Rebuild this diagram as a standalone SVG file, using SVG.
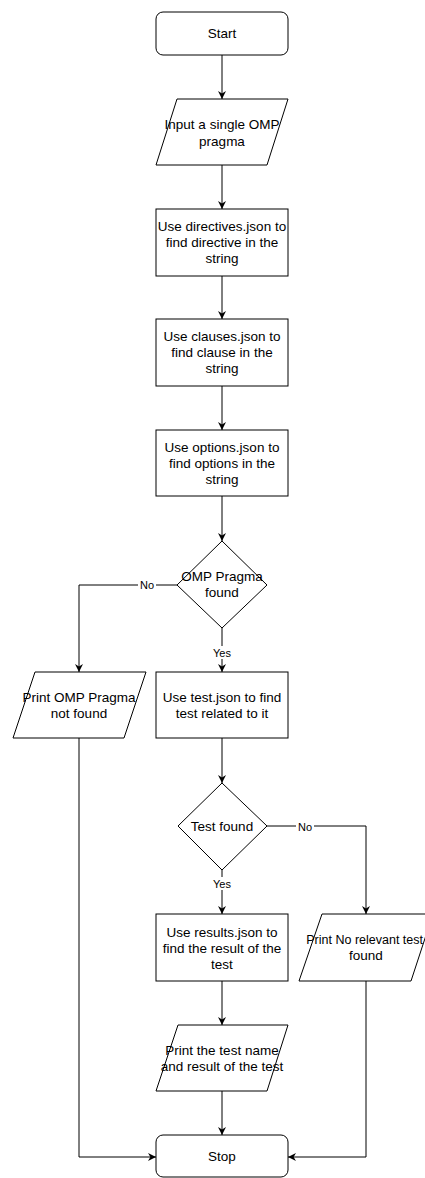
<svg xmlns="http://www.w3.org/2000/svg" width="425" height="1178" viewBox="0 0 425 1178">
<style>
.s{fill:#fff;stroke:#000;stroke-width:1}
.t{font-family:"Liberation Sans",Arial,sans-serif;font-size:13.5px;fill:#000;text-anchor:middle}
.l{font-family:"Liberation Sans",Arial,sans-serif;font-size:11px;fill:#000;text-anchor:middle}
.c{fill:none;stroke:#000;stroke-width:1}
</style>
<defs>
<marker id="a" viewBox="0 0 10 10" refX="10" refY="5" markerWidth="8" markerHeight="8" markerUnits="userSpaceOnUse" orient="auto">
<path d="M0,0 L10,5 L0,10 L3,5 z" fill="#000"/>
</marker>
</defs>
<rect width="425" height="1178" fill="#fff"/>
<g id="connectors">
<path class="c" d="M222,55 V99" marker-end="url(#a)"/>
<path class="c" d="M222,165 V209" marker-end="url(#a)"/>
<path class="c" d="M222,276 V319" marker-end="url(#a)"/>
<path class="c" d="M222,386 V430" marker-end="url(#a)"/>
<path class="c" d="M222,496 V541" marker-end="url(#a)"/>
<path class="c" d="M222,628 V672" marker-end="url(#a)"/>
<path class="c" d="M177,585 H79 V672" marker-end="url(#a)"/>
<path class="c" d="M222,738 V783" marker-end="url(#a)"/>
<path class="c" d="M222,870 V914" marker-end="url(#a)"/>
<path class="c" d="M267,826 H366 V914" marker-end="url(#a)"/>
<path class="c" d="M222,981 V1025" marker-end="url(#a)"/>
<path class="c" d="M222,1091 V1135" marker-end="url(#a)"/>
<path class="c" d="M79,738 V1157 H156" marker-end="url(#a)"/>
<path class="c" d="M366,981 V1157 H288" marker-end="url(#a)"/>
<rect x="138" y="578" width="18" height="13" fill="#fff"/>
<text class="l" x="147" y="589">No</text>
<rect x="211" y="646" width="22" height="13" fill="#fff"/>
<text class="l" x="222" y="657">Yes</text>
<rect x="296" y="820" width="18" height="13" fill="#fff"/>
<text class="l" x="305" y="831">No</text>
<rect x="211" y="877" width="22" height="13" fill="#fff"/>
<text class="l" x="222" y="888">Yes</text>
</g>
<g id="start">
<rect class="s" x="156" y="12" width="132" height="43" rx="7"/>
<text class="t" x="222" y="38">Start</text>
</g>
<g id="input">
<path class="s" d="M177,99 H288 L267,165 H156 Z"/>
<text class="t" x="222" y="129">Input a single OMP</text>
<text class="t" x="222" y="146">pragma</text>
</g>
<g id="directives">
<rect class="s" x="156" y="209" width="132" height="67"/>
<text class="t" x="222" y="231">Use directives.json to</text>
<text class="t" x="222" y="247">find directive in the</text>
<text class="t" x="222" y="263">string</text>
</g>
<g id="clauses">
<rect class="s" x="156" y="319" width="132" height="67"/>
<text class="t" x="222" y="341">Use clauses.json to</text>
<text class="t" x="222" y="357">find clause in the</text>
<text class="t" x="222" y="373">string</text>
</g>
<g id="options">
<rect class="s" x="156" y="430" width="132" height="66"/>
<text class="t" x="222" y="452">Use options.json to</text>
<text class="t" x="222" y="468">find options in the</text>
<text class="t" x="222" y="484">string</text>
</g>
<g id="pragmaFound">
<path class="s" d="M222,541 L267,585 L222,628 L177,585 Z"/>
<text class="t" x="222" y="581">OMP Pragma</text>
<text class="t" x="222" y="597">found</text>
</g>
<g id="notFound">
<path class="s" d="M35,672 H146 L124,738 H13 Z"/>
<text class="t" x="79" y="702">Print OMP Pragma</text>
<text class="t" x="79" y="718">not found</text>
</g>
<g id="testJson">
<rect class="s" x="156" y="672" width="132" height="66"/>
<text class="t" x="222" y="702">Use test.json to find</text>
<text class="t" x="222" y="718">test related to it</text>
</g>
<g id="testFound">
<path class="s" d="M222,783 L267,826 L222,870 L178,826 Z"/>
<text class="t" x="222" y="831">Test found</text>
</g>
<g id="results">
<rect class="s" x="156" y="914" width="132" height="67"/>
<text class="t" x="222" y="937">Use results.json to</text>
<text class="t" x="222" y="953">find the result of the</text>
<text class="t" x="222" y="969">test</text>
</g>
<g id="noTest">
<path class="s" d="M322,914 H433 L411,981 H299 Z"/>
<text class="t" x="423" y="944" style="text-anchor:end;font-size:12.5px">Print No relevant test</text>
<text class="t" x="366" y="960">found</text>
</g>
<g id="printResult">
<path class="s" d="M178,1025 H288 L267,1091 H156 Z"/>
<text class="t" x="222" y="1055">Print the test name</text>
<text class="t" x="222" y="1071">and result of the test</text>
</g>
<g id="stop">
<rect class="s" x="156" y="1135" width="132" height="42" rx="7"/>
<text class="t" x="222" y="1161">Stop</text>
</g>
</svg>
